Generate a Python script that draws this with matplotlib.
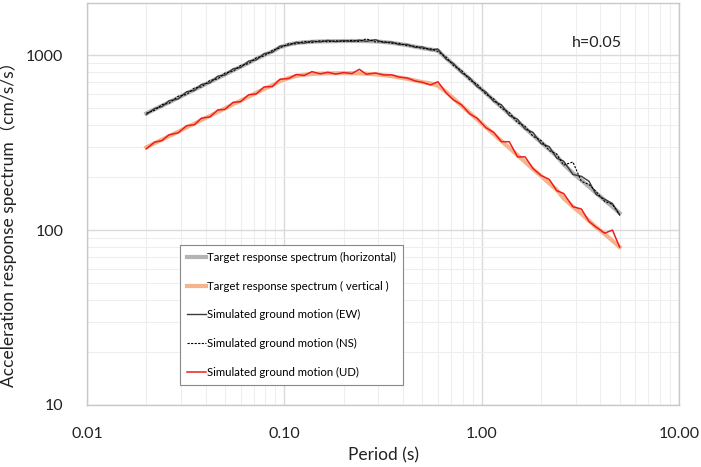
import matplotlib
matplotlib.use("Agg")
import matplotlib.pyplot as plt
from matplotlib.ticker import FixedLocator, LogLocator, NullFormatter, FixedFormatter

plt.rcParams['font.family'] = ['Lato', 'Noto Sans CJK JP', 'DejaVu Sans']

# Periods (s)
period = [0.020, 0.022, 0.024, 0.026, 0.029, 0.032, 0.035, 0.038, 0.042, 0.046,
          0.050, 0.055, 0.060, 0.066, 0.072, 0.079, 0.087, 0.095, 0.105, 0.115,
          0.126, 0.138, 0.152, 0.166, 0.182, 0.200, 0.22, 0.24, 0.26, 0.29,
          0.32, 0.35, 0.38, 0.42, 0.46, 0.50, 0.55, 0.60, 0.66, 0.72,
          0.79, 0.87, 0.95, 1.05, 1.15, 1.26, 1.38, 1.52, 1.66, 1.82,
          2.0, 2.2, 2.4, 2.6, 2.9, 3.2, 3.5, 3.8, 4.2, 4.6, 5.0]

target_h = [464, 490, 514, 537, 571, 604, 635, 665, 703, 740,
            775, 818, 858, 905, 951, 1001, 1050, 1110, 1150, 1172,
            1185, 1192, 1198, 1200, 1202, 1204, 1205, 1205, 1203, 1198,
            1188, 1175, 1160, 1140, 1118, 1098, 1078, 1060, 964, 883,
            805, 731, 669, 606, 553, 505, 461, 418, 383, 349,
            318, 289, 265, 238, 212, 193, 177, 163, 148, 136, 125]

target_v = [297, 314, 329, 344, 365, 387, 406, 426, 450, 474,
            496, 524, 549, 579, 609, 641, 672, 710, 740, 760,
            773, 780, 785, 787, 788, 789, 788, 786, 783, 777,
            768, 758, 746, 732, 716, 702, 690, 668, 617, 565,
            515, 468, 428, 388, 354, 323, 295, 268, 245, 223,
            204, 185, 170, 152, 136, 124, 113, 104, 95, 87, 80]

sim_ew = [458, 495, 508, 548, 562, 618, 628, 680, 695, 758,
          770, 835, 850, 925, 940, 1020, 1040, 1125, 1140, 1185,
          1170, 1205, 1190, 1215, 1195, 1212, 1198, 1218, 1200, 1225,
          1180, 1190, 1150, 1152, 1108, 1115, 1070, 1085, 950, 895,
          795, 742, 660, 615, 545, 520, 452, 430, 378, 362,
          312, 300, 258, 248, 208, 203, 190, 160, 150, 142, 122]

sim_ns = [466, 484, 522, 530, 582, 596, 648, 658, 716, 732,
          790, 808, 872, 895, 965, 990, 1065, 1100, 1162, 1160,
          1198, 1180, 1210, 1192, 1208, 1198, 1215, 1196, 1240, 1190,
          1195, 1168, 1170, 1132, 1125, 1090, 1088, 1050, 975, 872,
          818, 722, 680, 598, 562, 498, 470, 412, 392, 344,
          325, 285, 272, 235, 245, 190, 182, 166, 146, 140, 123]

sim_ud = [292, 318, 325, 350, 360, 395, 400, 436, 444, 486,
          490, 537, 542, 594, 600, 658, 662, 728, 735, 775,
          765, 805, 782, 798, 780, 795, 785, 830, 778, 790,
          770, 772, 750, 740, 712, 700, 675, 705, 610, 555,
          520, 462, 435, 385, 362, 320, 320, 262, 262, 225,
          205, 195, 168, 162, 136, 132, 112, 104, 96, 100, 80]

labels = ["Target response spectrum (horizontal)",
          "Target response spectrum ( vertical )",
          "Simulated ground motion (EW)",
          "Simulated ground motion (NS)",
          "Simulated ground motion (UD)"]

x_ticks = [0.01, 0.1, 1, 10]
x_ticklabels = ["0.01", "0.10", "1.00", "10.00"]
y_ticks = [10, 100, 1000]
y_ticklabels = ["10", "100", "1000"]

fig = plt.figure(figsize=(7.01, 4.67), dpi=100)
ax = fig.add_axes([87/701, 1 - 405/467, (679-87)/701, (405-2.5)/467])

ax.plot(period, target_h, color='#b4b4b4', lw=3.0, label=labels[0], zorder=2)
ax.plot(period, target_v, color='#f6b48e', lw=3.0, label=labels[1], zorder=2)
ax.plot(period, sim_ew, color='#3a3a3a', lw=1.0, label=labels[2], zorder=3)
ax.plot(period, sim_ns, color='#000000', lw=0.8, ls=(0, (2, 1.2)), label=labels[3], zorder=3)
ax.plot(period, sim_ud, color='#ee1c1c', lw=1.1, label=labels[4], zorder=3)

ax.set_xscale('log')
ax.set_yscale('log')
ax.set_xlim(0.01, 10)
ax.set_ylim(10, 2000)

ax.xaxis.set_major_locator(FixedLocator(x_ticks))
ax.xaxis.set_major_formatter(FixedFormatter(x_ticklabels))
ax.yaxis.set_major_locator(FixedLocator(y_ticks))
ax.yaxis.set_major_formatter(FixedFormatter(y_ticklabels))
ax.xaxis.set_minor_locator(LogLocator(base=10, subs=range(2, 10)))
ax.yaxis.set_minor_locator(LogLocator(base=10, subs=range(2, 10)))
ax.xaxis.set_minor_formatter(NullFormatter())
ax.yaxis.set_minor_formatter(NullFormatter())

ax.grid(which='major', color='#dadada', lw=1.0, zorder=0)
ax.grid(which='minor', color='#eeeeee', lw=0.8, zorder=0)
ax.set_axisbelow(True)
ax.tick_params(which='both', length=0)
ax.tick_params(axis='x', pad=16, labelsize=11.5, labelcolor='#222222')
ax.tick_params(axis='y', pad=17, labelsize=11.5, labelcolor='#222222')
for s in ax.spines.values():
    s.set_color('#c8c8c8')
    s.set_linewidth(1.0)

ax.set_xlabel("Period (s)", fontsize=12.5, color='#222222')
ax.xaxis.set_label_coords((383-87)/592, -(447-405)/402.5)
ax.set_ylabel("Acceleration response spectrum（cm/s/s）", fontsize=12.5, color='#222222')
ax.yaxis.set_label_coords(-(87-17)/592, (405-220)/402.5)

ax.text((597-87)/592, (405-43)/402.5, "h=0.05", transform=ax.transAxes,
        ha='center', va='center', fontsize=11.5, color='#222222')

leg = ax.legend(loc='upper left', bbox_to_anchor=((180-87)/592, (405-245)/402.5),
                borderaxespad=0, fontsize=8.2, handlelength=1.7, handletextpad=0.1,
                labelspacing=1.55, borderpad=0.6, fancybox=False, framealpha=1)
leg.get_frame().set_edgecolor('#888888')
leg.get_frame().set_linewidth(0.8)

fig.savefig("out.png", dpi=100)
